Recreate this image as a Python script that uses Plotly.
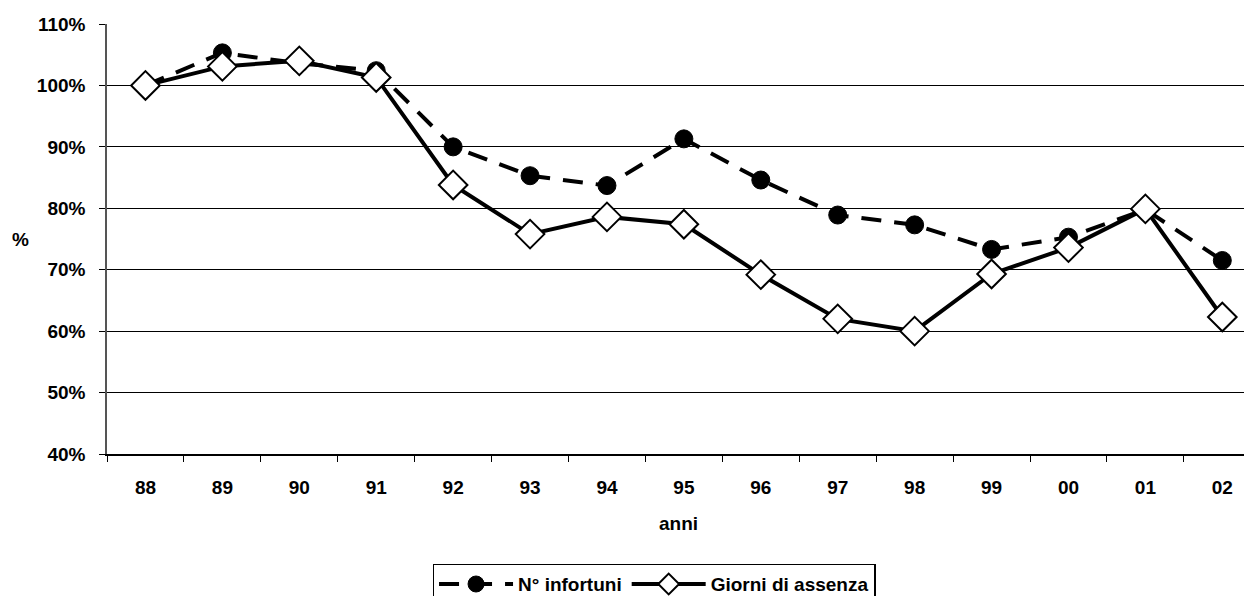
import plotly.graph_objects as go

anni = ["88", "89", "90", "91", "92", "93", "94", "95", "96", "97", "98", "99", "00", "01", "02"]
n_infortuni = [100.0, 105.3, 103.6, 102.4, 90.0, 85.3, 83.7, 91.3, 84.6, 78.9, 77.3, 73.3, 75.3, 79.8, 71.5]
giorni_assenza = [100.0, 103.1, 104.0, 101.3, 83.8, 75.8, 78.6, 77.4, 69.2, 62.0, 60.0, 69.3, 73.6, 79.9, 62.3]
y_ticks = [40, 50, 60, 70, 80, 90, 100, 110]

FONT = "Liberation Sans, Arial, sans-serif"
FS = 19

fig = go.Figure()
fig.add_trace(go.Scatter(
    x=anni, y=n_infortuni, name="N° infortuni", mode="lines+markers",
    line=dict(color="black", width=4, dash="20px,13px"),
    marker=dict(symbol="circle", size=18, color="black", line=dict(color="black", width=1)),
))
fig.add_trace(go.Scatter(
    x=anni, y=giorni_assenza, name="Giorni di assenza", mode="lines+markers",
    line=dict(color="black", width=4),
    marker=dict(symbol="diamond", size=22, color="white", line=dict(color="black", width=2)),
))

fig.update_layout(
    width=1244, height=588,
    margin=dict(l=99, r=2, t=16, b=142, autoexpand=False),
    paper_bgcolor="white", plot_bgcolor="white",
    font=dict(family=FONT, size=FS, color="black"),
    showlegend=True,
    legend=dict(
        orientation="h", x=0.4786, xanchor="center", y=-0.255, yanchor="top",
        bordercolor="black", borderwidth=1.5,
        font=dict(family=FONT, size=FS, color="black", weight="bold"),
        itemwidth=74, tracegroupgap=0,
    ),
    annotations=[dict(
        text="<b>%</b>", xref="paper", yref="paper", x=-0.0761, y=0.5,
        xanchor="center", yanchor="middle", showarrow=False,
        font=dict(family=FONT, size=FS, color="black"),
    )],
)
fig.update_xaxes(
    type="category", categoryorder="array", categoryarray=anni,
    range=[-0.5, 14.36], autorange=False,
    showline=True, linecolor="black", linewidth=1.5,
    ticks="outside", tickson="boundaries", ticklen=6, tickcolor="black",
    showgrid=False,
    tickfont=dict(family=FONT, size=FS, color="black", weight="bold"),
    ticklabelstandoff=15,
    title=dict(text="<b>anni</b>", font=dict(family=FONT, size=FS, color="black"), standoff=20),
)
fig.update_yaxes(
    range=[40, 110], tickvals=y_ticks, ticktext=[f"{v}%" for v in y_ticks],
    showline=True, linecolor="#555555", linewidth=1.5,
    ticks="outside", ticklen=6, tickcolor="black",
    showgrid=True, gridcolor="black", gridwidth=1,
    zeroline=False,
    tickfont=dict(family=FONT, size=FS, color="black", weight="bold"),
    ticklabelstandoff=10,
)

fig.write_html("out.html")
